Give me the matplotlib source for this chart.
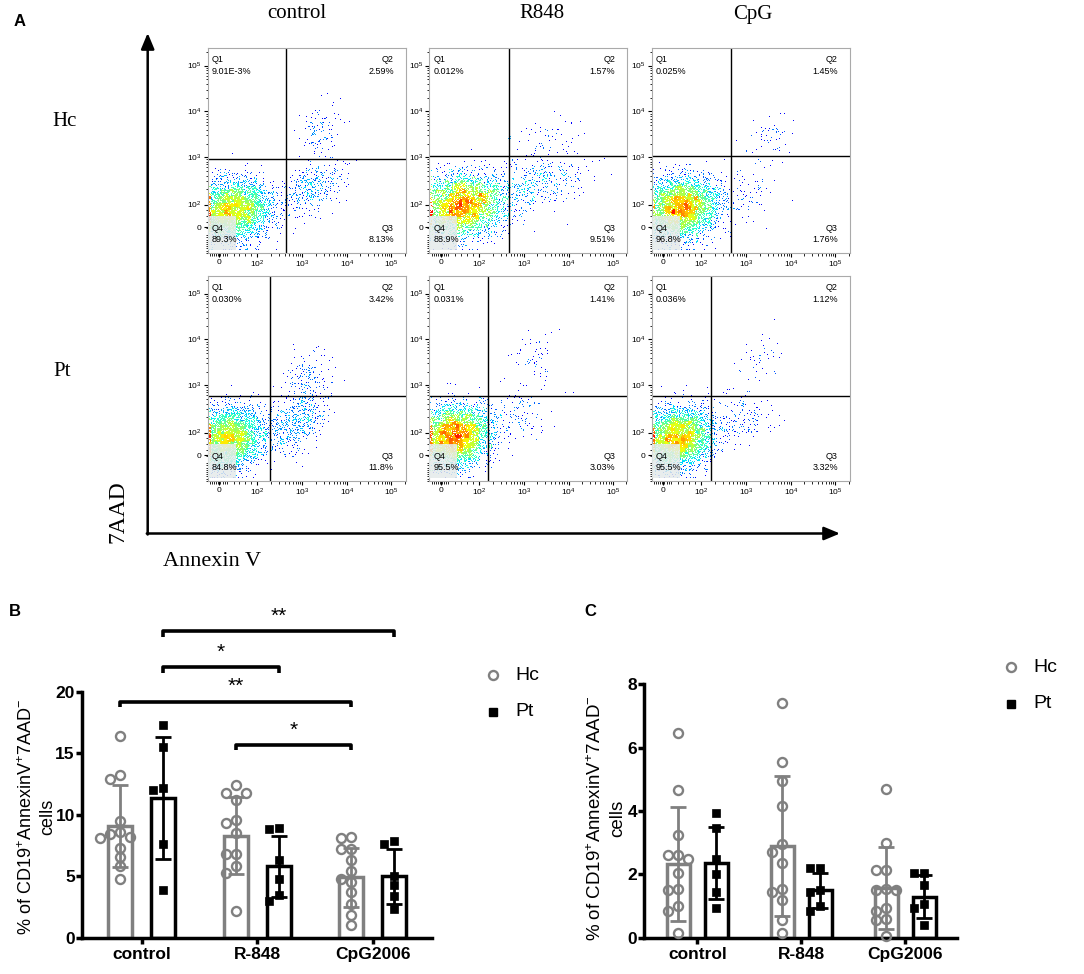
import numpy as np
import matplotlib
matplotlib.use("Agg")
import matplotlib.pyplot as plt
from matplotlib.patches import Rectangle

plt.rcParams["font.family"] = ["Liberation Sans", "DejaVu Sans"]
plt.rcParams["mathtext.fontset"] = "custom"
plt.rcParams["mathtext.rm"] = "Liberation Sans"
plt.rcParams["mathtext.default"] = "regular"

# ----------------------------
# Panel A: flow cytometry (Annexin V / 7AAD)
# ----------------------------
conditions = ["control", "R848", "CpG"]
rows = ["Hc", "Pt"]
q1_text = ["9.01E-3%", "0.012%", "0.025%", "0.030%", "0.031%", "0.036%"]
q2_pct = [2.59, 1.57, 1.45, 3.42, 1.41, 1.12]
q3_pct = [8.13, 9.51, 1.76, 11.8, 3.03, 3.32]
q4_pct = [89.3, 88.9, 96.8, 84.8, 95.5, 95.5]
# quadrant gates (display units: 3 = 10^3, 4 = 10^4 ...)
gate_x = [2.63, 2.66, 2.66, 2.26, 2.20, 2.20]
gate_y = [2.96, 3.03, 3.03, 2.77, 2.77, 2.77]
# population centres / spreads (u, v, su, sv, rho)
main_pop = [(1.45, 1.85, 0.42, 0.32, 0.1), (1.60, 1.95, 0.47, 0.34, 0.1),
            (1.55, 1.90, 0.40, 0.32, 0.1), (1.35, 1.85, 0.38, 0.32, 0.1),
            (1.45, 1.90, 0.38, 0.32, 0.1), (1.45, 1.85, 0.38, 0.32, 0.1)]
q3_pop = [(3.25, 2.35, 0.32, 0.32, 0.4), (3.20, 2.40, 0.55, 0.32, 0.4),
          (3.00, 2.30, 0.32, 0.32, 0.3), (2.85, 2.20, 0.32, 0.32, 0.4),
          (2.80, 2.30, 0.38, 0.32, 0.3), (2.90, 2.20, 0.38, 0.32, 0.3)]
q2_pop = [(3.40, 3.50, 0.22, 0.38, 0.3), (3.50, 3.40, 0.38, 0.32, 0.3),
          (3.50, 3.50, 0.32, 0.28, 0.3), (3.10, 3.15, 0.28, 0.32, 0.3),
          (3.20, 3.50, 0.28, 0.32, 0.3), (3.30, 3.50, 0.28, 0.32, 0.3)]
n_events = 5000

# ----------------------------
# Panels B and C: bar + scatter
# ----------------------------
groups = ["control", "R-848", "CpG2006"]

B_hc = [[16.4, 13.2, 12.9, 9.5, 8.6, 8.4, 8.2, 8.1, 7.3, 6.6, 5.8, 4.8],
        [12.4, 11.8, 11.8, 11.2, 9.6, 9.3, 8.5, 6.8, 6.8, 5.8, 5.25, 2.2],
        [8.1, 8.2, 7.2, 7.2, 6.3, 5.4, 4.8, 4.5, 3.7, 2.7, 1.85, 1.0]]
B_pt = [[17.3, 15.5, 12.0, 12.2, 7.6, 3.9],
        [8.8, 8.9, 6.3, 4.8, 3.0, 3.5],
        [7.6, 7.9, 5.0, 4.3, 3.4, 2.3]]
B_hc_mean = [9.1, 8.3, 4.9]
B_hc_sd = [3.35, 3.1, 2.4]
B_pt_mean = [11.35, 5.8, 5.0]
B_pt_sd = [4.95, 2.5, 2.25]

C_hc = [[6.45, 4.65, 3.25, 2.6, 2.6, 2.5, 2.05, 1.55, 1.5, 1.0, 0.85, 0.15],
        [7.4, 5.55, 4.95, 4.15, 2.95, 2.7, 2.35, 1.55, 1.45, 1.2, 0.55, 0.15],
        [4.7, 3.0, 2.15, 2.15, 1.55, 1.5, 1.5, 0.95, 0.85, 0.6, 0.55, 0.05]]
C_pt = [[3.95, 3.45, 2.5, 2.0, 1.45, 0.95],
        [2.2, 2.2, 1.5, 1.45, 1.0, 0.85],
        [2.05, 2.05, 1.65, 1.05, 0.95, 0.4]]
C_hc_mean = [2.32, 2.9, 1.57]
C_hc_sd = [1.8, 2.2, 1.28]
C_pt_mean = [2.36, 1.5, 1.3]
C_pt_sd = [1.13, 0.55, 0.68]

# significance brackets for B: (group_a, series_a, group_b, series_b, level, label)
B_sig = [(0, "pt", 2, "pt", 24.9, "**"),
         (0, "pt", 1, "pt", 22.0, "*"),
         (0, "hc", 2, "hc", 19.2, "**"),
         (1, "hc", 2, "hc", 15.7, "*")]

HC_COLOR = "#808080"
PT_COLOR = "black"

W, H = 1084, 974
fig = plt.figure(figsize=(W / 100, H / 100), dpi=100)


def rect(l, t, r, b):
    return [l / W, 1 - b / H, (r - l) / W, (b - t) / H]


overlay = fig.add_axes([0, 0, 1, 1])
overlay.set_xlim(0, W)
overlay.set_ylim(H, 0)
overlay.axis("off")

# ----------------------------
# flow plots
# ----------------------------
rng = np.random.default_rng(11)
XLIM = (0.87, 5.32)
YLIM = (0.97, 5.39)
xt = [1.13, 1.98, 3.0, 4.0, 5.0]
yt = [1.48, 1.97, 3.0, 4.0, 5.0]
tlab = ["0", "$10^2$", "$10^3$", "$10^4$", "$10^5$"]
minor = np.concatenate([np.linspace(0.92, 1.3, 9),
                        np.linspace(1.45, 1.85, 4),
                        (np.log10(np.arange(2, 10))[None, :] + np.arange(2, 5)[:, None]).ravel(),
                        [np.log10(2) + 5]])

col_left = [207.7, 429.3, 651.7]
row_top = [47.7, 275.7]
pw, ph = 198, 205

for i in range(6):
    r, c = divmod(i, 3)
    l, t = col_left[c], row_top[r]
    ax = fig.add_axes(rect(l, t, l + pw, t + ph))
    pts = []
    for pop, pct in [(main_pop[i], q4_pct[i]), (q3_pop[i], q3_pct[i]), (q2_pop[i], q2_pct[i])]:
        cu, cv, su, sv, rho = pop
        n = int(round(n_events * pct / 100))
        cov = [[su * su, rho * su * sv], [rho * su * sv, sv * sv]]
        pts.append(rng.multivariate_normal([cu, cv], cov, n))
    pts = np.vstack(pts)
    u = np.clip(pts[:, 0], XLIM[0] + 0.01, XLIM[1] - 0.01)
    v = np.clip(pts[:, 1], YLIM[0] + 0.01, YLIM[1] - 0.01)
    nb = 60
    hist, xe, ye = np.histogram2d(u, v, bins=nb, range=[XLIM, YLIM])
    ix = np.clip(np.digitize(u, xe) - 1, 0, nb - 1)
    iy = np.clip(np.digitize(v, ye) - 1, 0, nb - 1)
    dens = hist[ix, iy]
    dn = np.clip((dens - 1) / (dens.max() - 1), 0, 1) ** 0.55
    order = np.argsort(dn)
    ax.scatter(u[order], v[order], s=0.45, marker="s", linewidths=0,
               c=plt.cm.jet(0.125 + 0.76 * dn[order]), rasterized=True)
    ax.axvline(gate_x[i], color="black", lw=1.0)
    ax.axhline(gate_y[i], color="black", lw=1.0)
    ax.add_patch(Rectangle((XLIM[0], YLIM[0]), 1.5 - XLIM[0], 1.71 - YLIM[0],
                           facecolor="#e4eaea", alpha=0.85, edgecolor="none", zorder=3))
    ax.set_xlim(XLIM)
    ax.set_ylim(YLIM)
    ax.set_xticks(xt)
    ax.set_yticks(yt)
    ax.set_xticks(minor, minor=True)
    ax.set_yticks(minor, minor=True)
    ax.set_xticklabels(tlab)
    ax.set_yticklabels(tlab)
    ax.tick_params(which="major", length=3, width=0.8, labelsize=6, pad=1.5)
    ax.tick_params(which="minor", length=1.8, width=0.6)
    for s in ax.spines.values():
        s.set_color("#aaaaaa")
        s.set_linewidth(0.8)
    fs = 6.5
    ax.text(0.02, 0.94, "Q1", transform=ax.transAxes, fontsize=fs, va="center")
    ax.text(0.02, 0.885, q1_text[i], transform=ax.transAxes, fontsize=fs, va="center")
    ax.text(0.94, 0.94, "Q2", transform=ax.transAxes, fontsize=fs, va="center", ha="right")
    ax.text(0.94, 0.885, "%.2f%%" % q2_pct[i], transform=ax.transAxes, fontsize=fs,
            va="center", ha="right")
    ax.text(0.94, 0.117, "Q3", transform=ax.transAxes, fontsize=fs, va="center", ha="right", zorder=4)
    ax.text(0.94, 0.062, ("%.3g%%" % q3_pct[i]) if q3_pct[i] >= 10 else "%.2f%%" % q3_pct[i],
            transform=ax.transAxes, fontsize=fs, va="center", ha="right", zorder=4)
    ax.text(0.02, 0.117, "Q4", transform=ax.transAxes, fontsize=fs, va="center", zorder=4)
    ax.text(0.02, 0.062, "%.1f%%" % q4_pct[i], transform=ax.transAxes, fontsize=fs,
            va="center", zorder=4)

serif = ["Liberation Serif", "DejaVu Serif"]
for cx, name in zip([297, 542, 753], conditions):
    overlay.text(cx, 14, name, ha="center", va="center", fontsize=15, family=serif)
overlay.text(65, 122, rows[0], ha="center", va="center", fontsize=15, family=serif)
overlay.text(62, 372, rows[1], ha="center", va="center", fontsize=15, family=serif)
overlay.text(118, 512, "7AAD", ha="center", va="center", rotation=90, fontsize=17, family=serif)
overlay.text(212, 562, "Annexin V", ha="center", va="center", fontsize=16, family=serif)
arrow = dict(arrowstyle="-|>,head_length=0.6,head_width=0.25", lw=1.8, color="black",
             mutation_scale=16, shrinkA=0, shrinkB=0)
overlay.annotate("", xy=(147.7, 33), xytext=(147.7, 534.5), arrowprops=arrow)
overlay.annotate("", xy=(840, 533.5), xytext=(146.8, 533.5), arrowprops=arrow)

for lab, x, y in [("A", 20, 22), ("B", 15, 612), ("C", 590, 612)]:
    overlay.text(x, y, lab, ha="center", va="center", fontsize=12, fontweight="bold")


# ----------------------------
# bar panels
# ----------------------------
def swarm(vals, center, px_x, px_y, step=10.0, diam=8.0):
    vals = np.asarray(vals, float)
    xs = np.zeros(len(vals))
    placed = []
    for i in np.argsort(vals)[::-1]:
        y = vals[i] * px_y
        for k in [0, -1, 1, -2, 2, -3, 3]:
            x = k * step
            if all((x - a) ** 2 + (y - b) ** 2 >= diam ** 2 for a, b in placed):
                break
        placed.append((x, y))
        xs[i] = center + x / px_x
    return xs


def bar_panel(ax, hc, pt, hc_m, hc_s, pt_m, pt_s, ymax, yticks, px_x, px_y, off, width):
    g = np.arange(len(groups))
    for sets, means, sds, color, sign, kind in [(hc, hc_m, hc_s, HC_COLOR, -1, "o"),
                                                (pt, pt_m, pt_s, PT_COLOR, 1, "s")]:
        xs = g + sign * off
        ax.bar(xs, means, width, facecolor="white", edgecolor=color, linewidth=2.5, zorder=2)
        ax.errorbar(xs, means, yerr=sds, fmt="none", ecolor=color, elinewidth=2,
                    capsize=6, capthick=2, zorder=3)
        for x, vals in zip(xs, sets):
            sx = swarm(vals, x, px_x, px_y)
            if kind == "o":
                ax.plot(sx, vals, "o", ms=6.5, mfc="none", mec=color, mew=1.7, zorder=4, clip_on=False)
            else:
                ax.plot(sx, vals, "s", ms=6, mfc=color, mec=color, mew=0.5, zorder=4, clip_on=False)
    ax.set_ylim(0, ymax)
    ax.set_xlim(-0.52, 2.51)
    ax.set_yticks(yticks)
    ax.set_xticks(g)
    ax.set_xticklabels(groups)
    for s in ["top", "right"]:
        ax.spines[s].set_visible(False)
    for s in ["left", "bottom"]:
        ax.spines[s].set_linewidth(2.5)
    ax.tick_params(length=4, width=2.5, labelsize=12.5)
    ax.tick_params(axis="y", pad=1)
    ax.tick_params(axis="x", pad=3)
    for tl in ax.get_xticklabels() + ax.get_yticklabels():
        tl.set_fontweight("bold")


axB = fig.add_axes(rect(81.7, 691.7, 431.7, 937.7))
bar_panel(axB, B_hc, B_pt, B_hc_mean, B_hc_sd, B_pt_mean, B_pt_sd, 20, [0, 5, 10, 15, 20],
          115.5, 12.3, 0.186, 0.21)
axC = fig.add_axes(rect(644, 684.3, 956.7, 937.7))
bar_panel(axC, C_hc, C_pt, C_hc_mean, C_hc_sd, C_pt_mean, C_pt_sd, 8, [0, 2, 4, 6, 8],
          104.0, 31.7, 0.183, 0.22)
axC.set_xlim(-0.513, 2.496)

offs = {"hc": -0.186, "pt": 0.186}
for ga, sa, gb, sb, lev, lab in B_sig:
    xa, xb = ga + offs[sa], gb + offs[sb]
    axB.plot([xa, xa, xb, xb], [lev - 0.45, lev, lev, lev - 0.45], color="black", lw=2.6,
             clip_on=False, solid_capstyle="butt")
    axB.text((xa + xb) / 2, lev + 1.2, lab, ha="center", va="center", fontsize=15, clip_on=False)

ylab1 = "% of CD19$^{+}$AnnexinV$^{+}$7AAD$^{-}$"
ylab2 = "cells"
overlay.text(27, 817, ylab1, rotation=90, ha="center", va="center", fontsize=13)
overlay.text(48, 817, ylab2, rotation=90, ha="center", va="center", fontsize=13)
overlay.text(596, 818, ylab1, rotation=90, ha="center", va="center", fontsize=13.5)
overlay.text(618, 818, ylab2, rotation=90, ha="center", va="center", fontsize=13.5)

# legends
for (mx, my) in [(493, 675), (1011, 667)]:
    overlay.plot(mx, my, "o", ms=6.5, mfc="none", mec=HC_COLOR, mew=1.7)
    overlay.plot(mx, my + 37, "s", ms=6, mfc=PT_COLOR, mec=PT_COLOR)
    overlay.text(mx + 22, my, "Hc", va="center", fontsize=14)
    overlay.text(mx + 22, my + 37, "Pt", va="center", fontsize=14)

fig.savefig("out.png", dpi=100)
